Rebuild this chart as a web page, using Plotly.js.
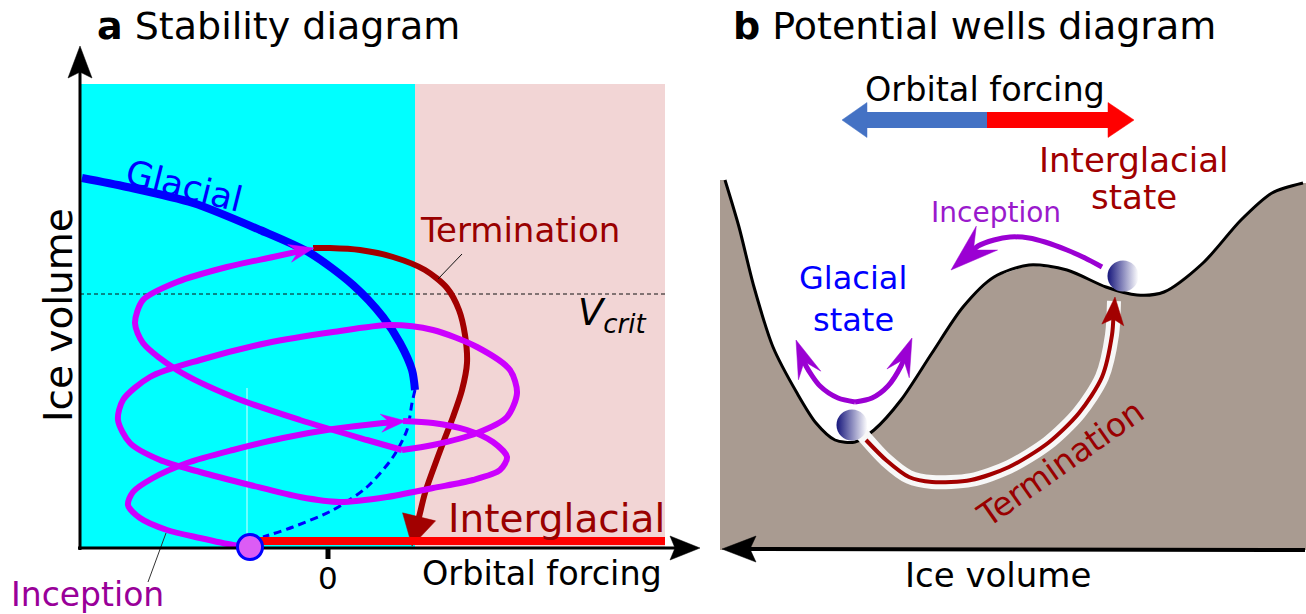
<!DOCTYPE html>
<html><head><meta charset="utf-8">
<script src="https://cdn.plot.ly/plotly-3.0.1.min.js"></script>
<style>html,body{margin:0;padding:0;background:#fff}#chart{width:1306px;height:614px}</style>
</head><body><div id="chart"></div>
<script>
// ---------- DATA (schematic coordinates, 1 unit = 1 px of the canvas) ----------
// Panel a : stability diagram
const glacialRegionX = [80, 415];
const interglacialRegionX = [415, 665];
const regionY = [84, 548];
const vcritX = [80, 668];
const vcritY = [294, 294];

const glacialStableX = [82, 127, 193, 260, 310, 353, 383, 400, 412, 415];
const glacialStableY = [178, 187, 203, 230, 253, 285, 317, 343, 370, 390];
const glacialUnstableX = [415, 412, 407, 393, 367, 333, 293, 263];
const glacialUnstableY = [390, 403, 430, 457, 487, 510, 527, 537];

const interglacialX = [258, 665];
const interglacialY = [541, 541];

const inceptionPointX = [250];
const inceptionPointY = [547];

// inception spiral, split in three strokes
const spiralAX = [250, 233, 200, 167, 140, 128, 133, 153, 187, 233, 283, 333, 383, 406];
const spiralAY = [547, 545, 538, 530, 518, 505, 492, 478, 463, 450, 438, 429, 423, 421];
const spiralBX = [403, 433, 467, 493, 507, 500, 473, 433, 387, 340, 300, 250, 200, 160, 130, 118, 123, 150, 200, 267, 333, 390, 433, 477, 510, 517, 507, 477, 433, 402];
const spiralBY = [421, 423, 430, 442, 457, 470, 480, 488, 497, 502, 497, 485, 472, 460, 443, 420, 400, 377, 360, 343, 332, 325, 330, 347, 370, 393, 417, 433, 445, 450];
const spiralCX = [402, 367, 300, 233, 177, 143, 135, 143, 177, 227, 273, 314];
const spiralCY = [450, 440, 420, 397, 370, 343, 323, 300, 282, 267, 257, 248];

const terminationAX = [313, 330, 360, 393, 425, 447, 459, 465, 467, 462, 453, 443, 433, 425, 420, 412];
const terminationAY = [248, 248, 250, 257, 270, 288, 310, 335, 363, 390, 417, 443, 470, 493, 513, 546];

const yAxisAX = [80, 80], yAxisAY = [550, 46];
const xAxisAX = [78, 700], xAxisAY = [548, 548];
const zeroTickX = [328, 328], zeroTickY = [548, 559];
const whiteGuideX = [247, 247], whiteGuideY = [388, 547];
const termLeaderX = [462, 438], termLeaderY = [254, 279];
const incLeaderX = [166, 148], incLeaderY = [533, 582];

// Panel b : potential wells
const wellX = [725, 739, 754, 773, 797, 816, 835, 855, 874, 901, 932, 963, 994, 1029, 1067, 1106, 1137, 1164, 1203, 1241, 1272, 1303];
const wellY = [180, 227, 287, 347, 393, 423, 440, 442, 430, 400, 353, 307, 277, 265, 270, 287, 295, 292, 263, 220, 193, 183];
const groundLeft = 720, groundRight = 1306, groundBottom = 550;

const ballsX = [852, 1123];
const ballsY = [425, 276];

const terminationBX = [866, 886, 909, 932, 971, 1009, 1048, 1079, 1102, 1112, 1115];
const terminationBY = [440, 460, 477, 482, 480, 467, 443, 413, 377, 335, 297];
const terminationBandX = [862, 886, 909, 932, 971, 1009, 1048, 1079, 1102, 1112, 1114];
const terminationBandY = [434, 460, 477, 482, 480, 467, 443, 413, 377, 335, 301];

const inceptionBX = [1102, 1085, 1067, 1045, 1029, 1010, 994, 978, 963, 951];
const inceptionBY = [267, 258, 250, 242, 238, 237, 240, 246, 256, 270];
const wobbleLeftX = [855, 838, 820, 806, 796];
const wobbleLeftY = [402, 398, 386, 366, 340];
const wobbleRightX = [855, 872, 888, 901, 912];
const wobbleRightY = [402, 398, 386, 366, 338];

const forcingColdX = [988, 842], forcingColdY = [120, 120];
const forcingWarmX = [987, 1134], forcingWarmY = [120, 120];
const iceAxisBX = [1305, 722], iceAxisBY = [550, 549];

// ---------- helpers ----------
const FONT = 'DejaVu Sans, Verdana, sans-serif';
const traces = [];

function line(xs, ys, color, width, extra) {
  traces.push(Object.assign({
    type: 'scatter', mode: 'lines', x: xs, y: ys, hoverinfo: 'skip',
    line: Object.assign({color: color, width: width, shape: 'spline', smoothing: 0.8}, extra || {})
  }));
}
// polyline ending with an arrow head at its last point
function arrow(xs, ys, color, width, len, hw, notch, extra) {
  const n = xs.length, tx = xs[n - 1], ty = ys[n - 1];
  let k = n - 2;
  while (k > 0 && Math.hypot(tx - xs[k], ty - ys[k]) < len * 0.6) k--;
  const dx = tx - xs[k], dy = ty - ys[k], d = Math.hypot(dx, dy);
  const ux = dx / d, uy = dy / d, nx = -uy, ny = ux;
  const bx = tx - ux * len, by = ty - uy * len;
  const mx = tx - ux * notch, my = ty - uy * notch;
  const lx = [], ly = [];
  for (let i = 0; i < n - 1; i++) {
    if (Math.hypot(tx - xs[i], ty - ys[i]) > notch + 3) { lx.push(xs[i]); ly.push(ys[i]); }
  }
  lx.push(mx + ux * 1.5); ly.push(my + uy * 1.5);
  if (width > 0) line(lx, ly, color, width, extra);
  traces.push({
    type: 'scatter', mode: 'lines', fill: 'toself', fillcolor: color, hoverinfo: 'skip',
    x: [tx, bx + nx * hw, mx, bx - nx * hw, tx],
    y: [ty, by + ny * hw, my, by - ny * hw, ty],
    line: {color: color, width: 0.5}
  });
}

// ---------- panel a ----------
line(whiteGuideX, whiteGuideY, 'rgba(255,255,255,0.85)', 1, {shape: 'linear'});
line(vcritX, vcritY, '#111111', 1, {shape: 'linear', dash: '4px,3px'});
arrow(terminationAX, terminationAY, '#a20000', 6, 30, 17, 30);
line(glacialStableX, glacialStableY, '#0000ff', 8);
line(glacialUnstableX, glacialUnstableY, '#0000ff', 3, {dash: '8px,5px'});
line(interglacialX, interglacialY, '#ff0000', 8, {shape: 'linear'});
const MAG = '#cc00ff';
arrow(spiralAX, spiralAY, MAG, 6, 25, 9, 16);
line(spiralBX, spiralBY, MAG, 6);
arrow(spiralCX, spiralCY, MAG, 6, 25, 9, 16);
line(termLeaderX, termLeaderY, '#111111', 1, {shape: 'linear'});
line(incLeaderX, incLeaderY, '#333333', 1, {shape: 'linear'});
arrow(yAxisAX, yAxisAY, '#000000', 3, 32, 12, 26, {shape: 'linear'});
arrow(xAxisAX, xAxisAY, '#000000', 3, 30, 12, 25, {shape: 'linear'});
line(zeroTickX, zeroTickY, '#000000', 5, {shape: 'linear'});
traces.push({
  type: 'scatter', mode: 'markers', x: inceptionPointX, y: inceptionPointY, hoverinfo: 'skip',
  marker: {size: 25, color: '#dc5cf5', line: {color: '#0000ff', width: 3}}
});

// ---------- panel b ----------
traces.push({
  type: 'scatter', mode: 'lines', fill: 'toself', fillcolor: '#a99b91', hoverinfo: 'skip',
  x: [groundLeft].concat(wellX, [groundRight, groundRight, groundLeft, groundLeft]),
  y: [wellY[0]].concat(wellY, [wellY[wellY.length - 1], groundBottom, groundBottom, wellY[0]]),
  line: {width: 0, color: '#a99b91'}
});
line(wellX, wellY, '#000000', 3);
arrow(iceAxisBX, iceAxisBY, '#000000', 4, 34, 13, 28, {shape: 'linear'});
line(terminationBandX, terminationBandY, '#f7f7f7', 14);
arrow(terminationBX, terminationBY, '#a20000', 4, 28, 11, 22);
const PUR = '#9b00d3';
arrow(inceptionBX, inceptionBY, PUR, 5, 48, 16, 30);
arrow(wobbleLeftX, wobbleLeftY, PUR, 5, 38, 12, 23);
arrow(wobbleRightX, wobbleRightY, PUR, 5, 38, 12, 23);
arrow(forcingColdX, forcingColdY, '#4472c4', 16, 25, 17.5, 25, {shape: 'linear'});
arrow(forcingWarmX, forcingWarmY, '#ff0000', 16, 26, 17.5, 26, {shape: 'linear'});
traces.push({
  type: 'scatter', mode: 'markers', x: ballsX, y: ballsY, hoverinfo: 'skip',
  marker: {size: 31, color: '#16167c', gradient: {type: 'horizontal', color: '#ffffff'}, line: {width: 0}}
});

// ---------- text ----------
function label(text, x, y, size, color, opt) {
  return Object.assign({
    text: text, x: x, y: y, xref: 'x', yref: 'y', showarrow: false, borderpad: 0,
    font: {family: FONT, size: size, color: color}, xanchor: 'center', yanchor: 'middle'
  }, opt || {});
}
const annotations = [
  label('<b>a</b> Stability diagram', 96, 26, 38, '#000', {xanchor: 'left'}),
  label('<b>b</b> Potential wells diagram', 732, 26, 38, '#000', {xanchor: 'left'}),
  label('Ice volume', 58, 315, 39, '#000', {textangle: -90}),
  label('Orbital forcing', 663, 573, 33.5, '#000', {xanchor: 'right'}),
  label('0', 328, 578, 31, '#000'),
  label('Inception', 87, 594, 33, '#990099'),
  label('Glacial', 184, 186, 35, '#0000ff', {textangle: 14}),
  label('Termination', 520, 230, 34, '#990000'),
  label('<i>V<sub>crit</sub></i>', 612, 315, 37, '#000'),
  label('Interglacial', 556, 518, 39, '#990000'),
  label('Orbital forcing', 985, 89, 33.5, '#000'),
  label('Interglacial', 1134, 160, 34, '#a00000'),
  label('state', 1134, 197, 34, '#a00000'),
  label('Inception', 996, 212, 28, '#9a1acc'),
  label('Glacial', 853, 278, 32, '#0000ff'),
  label('state', 853, 320, 32, '#0000ff'),
  label('Termination', 1060, 463, 33, '#990000', {textangle: -35}),
  label('Ice volume', 998, 575, 34, '#000')
];

const layout = {
  width: 1306, height: 614, margin: {l: 0, r: 0, t: 0, b: 0},
  paper_bgcolor: '#ffffff', plot_bgcolor: '#ffffff', showlegend: false, hovermode: false,
  xaxis: {range: [0, 1306], visible: false, fixedrange: true},
  yaxis: {range: [614, 0], visible: false, fixedrange: true},
  shapes: [
    {type: 'rect', xref: 'x', yref: 'y', layer: 'below', x0: glacialRegionX[0], x1: glacialRegionX[1], y0: regionY[0], y1: regionY[1], fillcolor: '#00ffff', line: {width: 0}},
    {type: 'rect', xref: 'x', yref: 'y', layer: 'below', x0: interglacialRegionX[0], x1: interglacialRegionX[1], y0: regionY[0], y1: regionY[1], fillcolor: '#f2d5d5', line: {width: 0}}
  ],
  annotations: annotations
};
Plotly.newPlot('chart', traces, layout, {staticPlot: true, displayModeBar: false});
</script></body></html>
